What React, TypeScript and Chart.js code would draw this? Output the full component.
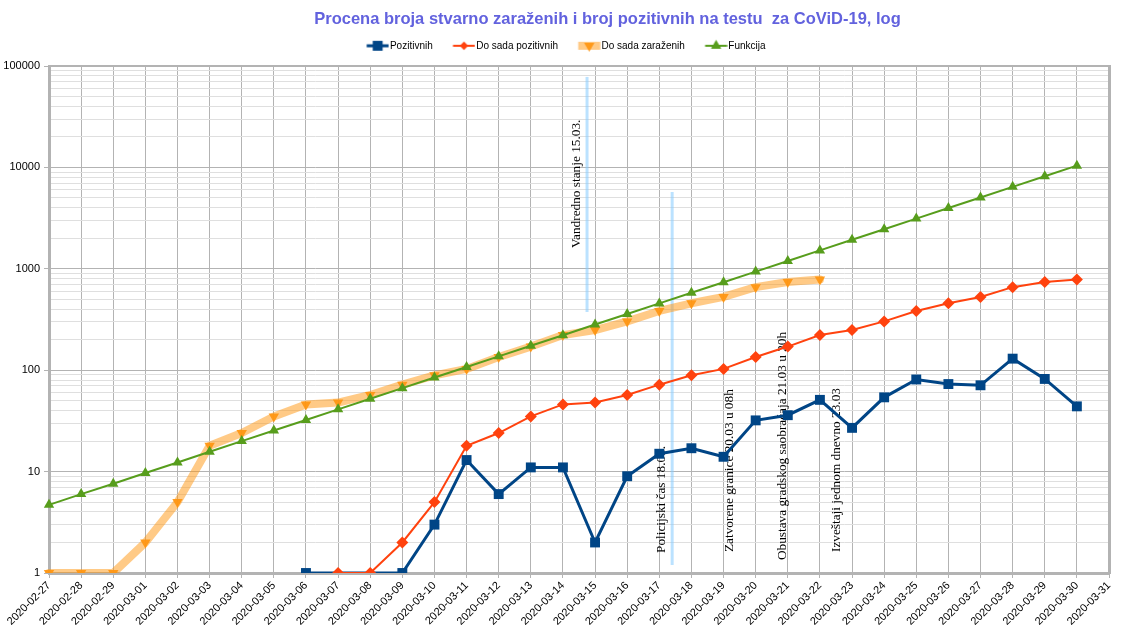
import React, { useEffect, useRef } from 'react';
import { Chart, registerables } from 'chart.js';

Chart.register(...registerables);

const categories = [
  '2020-02-27', '2020-02-28', '2020-02-29', '2020-03-01', '2020-03-02', '2020-03-03',
  '2020-03-04', '2020-03-05', '2020-03-06', '2020-03-07', '2020-03-08', '2020-03-09',
  '2020-03-10', '2020-03-11', '2020-03-12', '2020-03-13', '2020-03-14', '2020-03-15',
  '2020-03-16', '2020-03-17', '2020-03-18', '2020-03-19', '2020-03-20', '2020-03-21',
  '2020-03-22', '2020-03-23', '2020-03-24', '2020-03-25', '2020-03-26', '2020-03-27',
  '2020-03-28', '2020-03-29', '2020-03-30', '2020-03-31',
];

const pozitivnih = [
  null, null, null, null, null, null, null, null, 1, null, null, 1,
  3, 13, 6, 11, 11, 2, 9, 15, 17, 14, 32, 36,
  51, 27, 54, 81, 73, 71, 130, 82, 44, null,
];

const doSadaPozitivnih = [
  null, null, null, null, null, null, null, null, null, 1, 1, 2,
  5, 18, 24, 35, 46, 48, 57, 72, 89, 103, 135, 171,
  222, 249, 303, 384, 457, 528, 659, 741, 785, null,
];

const doSadaZarazenih = [
  1, 1, 1, 2, 5, 18, 24, 35, 46, 48, 57, 72,
  89, 103, 135, 171, 222, 249, 303, 384, 457, 528, 659, 741,
  785, null, null, null, null, null, null, null, null, null,
];

const funkcija = [
  4.7, 6.0, 7.6, 9.7, 12.3, 15.7, 20.0, 25.4, 32.3, 41.1, 52.3, 66.5,
  84.6, 107.6, 136.9, 174, 221, 282, 358, 456, 580, 738, 938, 1194,
  1519, 1932, 2457, 3125, 3975, 5056, 6431, 8180, 10405, null,
];

const seriesLabels = ['Pozitivnih', 'Do sada pozitivnih', 'Do sada zaraženih', 'Funkcija'];

const yMajorTicks = [1, 10, 100, 1000, 10000, 100000];
const yMinorMantissas = [2, 3, 4, 5, 6, 7, 8, 9];

const titleText = 'Procena broja stvarno zaraženih i broj pozitivnih na testu  za CoViD-19, log';

// annotation positions in data space (category index, y value)
const annotationLines = [
  { x: 16.75, yFrom: 375, yTo: 78000 },
  { x: 19.4, yFrom: 1.2, yTo: 5720 },
];
const annotationTexts = [
  { text: 'Vandredno stanje 15.03.', x: 16.53, y: 1600 },
  { text: 'Policijski čas 18.03.', x: 19.18, y: 1.575 },
  { text: 'Zatvorene granice 20.03 u 08h', x: 21.3, y: 1.61 },
  { text: 'Obustava gradskog saobraćaja 21.03 u 20h', x: 22.95, y: 1.34 },
  { text: 'Izveštaji jednom dnevno 23.03', x: 24.63, y: 1.61 },
];

const BLUE = '#004586';
const RED = '#ff420e';
const ORANGE_LINE = 'rgba(255,149,14,0.5)';
const ORANGE_MARK = 'rgba(255,149,14,0.9)';
const GREEN = '#579d1c';
const GRID = '#b3b3b3';
const GRID_MINOR = '#dfdfdf';
const SANS = '"Liberation Sans", Arial, sans-serif';
const SERIF = '"Liberation Serif", "Times New Roman", serif';

function drawMarker(ctx: CanvasRenderingContext2D, style: string, cx: number, cy: number, r: number) {
  ctx.beginPath();
  if (style === 'rect') {
    const s = r * Math.SQRT1_2;
    ctx.rect(cx - s, cy - s, 2 * s, 2 * s);
  } else if (style === 'rectRot') {
    const s = r * Math.SQRT1_2;
    ctx.moveTo(cx, cy - s);
    ctx.lineTo(cx + s, cy);
    ctx.lineTo(cx, cy + s);
    ctx.lineTo(cx - s, cy);
    ctx.closePath();
  } else if (style === 'triangle' || style === 'triangleDown') {
    const dir = style === 'triangle' ? 1 : -1;
    const h = r * 0.5;
    const w = r * Math.sin(Math.PI / 3);
    ctx.moveTo(cx, cy - dir * r);
    ctx.lineTo(cx + w, cy + dir * h);
    ctx.lineTo(cx - w, cy + dir * h);
    ctx.closePath();
  }
  ctx.fill();
}

function makeIcon(lineColor: string, lineWidth: number, style: string, markColor: string, r: number) {
  const c = document.createElement('canvas');
  c.width = 36;
  c.height = 16;
  const ctx = c.getContext('2d') as CanvasRenderingContext2D;
  ctx.strokeStyle = lineColor;
  ctx.lineWidth = lineWidth;
  ctx.beginPath();
  ctx.moveTo(13.5, 8);
  ctx.lineTo(35.5, 8);
  ctx.stroke();
  ctx.fillStyle = markColor;
  drawMarker(ctx, style, 24.5, 8, r);
  return c;
}

const annotationPlugin = {
  id: 'annotationsCustom',
  afterLayout(chart: any) {
    // the original title sits to the right of the canvas centre
    const tb = chart.titleBlock;
    if (tb) {
      tb.left += 46;
      tb.right += 46;
    }
  },
  beforeDatasetsDraw(chart: any) {
    const { ctx, scales } = chart;
    const xs = scales.x;
    const ys = scales.y;
    ctx.save();
    ctx.strokeStyle = 'rgba(131,202,255,0.55)';
    ctx.lineWidth = 3;
    annotationLines.forEach((l) => {
      const px = xs.getPixelForValue(l.x);
      ctx.beginPath();
      ctx.moveTo(px, ys.getPixelForValue(l.yFrom));
      ctx.lineTo(px, ys.getPixelForValue(l.yTo));
      ctx.stroke();
    });
    ctx.fillStyle = '#000';
    ctx.font = '13.3px ' + SERIF;
    ctx.textAlign = 'left';
    ctx.textBaseline = 'alphabetic';
    annotationTexts.forEach((t) => {
      const px = xs.getPixelForValue(t.x);
      const py = ys.getPixelForValue(t.y);
      ctx.save();
      ctx.translate(px, py);
      ctx.rotate(-Math.PI / 2);
      ctx.fillText(t.text, 0, 0);
      ctx.restore();
    });
    ctx.restore();
  },
};

export default function App() {
  const ref = useRef<HTMLCanvasElement | null>(null);

  useEffect(() => {
    document.body.style.margin = '0';
    const canvas = ref.current;
    if (!canvas) return;
    const icons = [
      makeIcon(BLUE, 3, 'rect', BLUE, 7),
      makeIcon(RED, 2, 'rectRot', RED, 6),
      makeIcon(ORANGE_LINE, 8, 'triangleDown', ORANGE_MARK, 6),
      makeIcon(GREEN, 2, 'triangle', GREEN, 6),
    ];
    Chart.defaults.font.family = SANS;
    const chart = new Chart(canvas, {
      type: 'line',
      data: {
        labels: categories,
        datasets: [
          {
            label: seriesLabels[0], data: pozitivnih, borderColor: BLUE, backgroundColor: BLUE,
            borderWidth: 3, pointStyle: 'rect', pointRadius: 7, pointBorderWidth: 0,
            pointBackgroundColor: BLUE, spanGaps: true, tension: 0, order: 3,
          },
          {
            label: seriesLabels[1], data: doSadaPozitivnih, borderColor: RED, backgroundColor: RED,
            borderWidth: 2, pointStyle: 'rectRot', pointRadius: 6, pointBorderWidth: 0,
            pointBackgroundColor: RED, tension: 0, order: 2,
          },
          {
            label: seriesLabels[2], data: doSadaZarazenih, borderColor: ORANGE_LINE, backgroundColor: ORANGE_MARK,
            borderWidth: 8, borderJoinStyle: 'round', borderCapStyle: 'round',
            pointStyle: 'triangle', pointRotation: 180, pointRadius: 6, pointBorderWidth: 0,
            pointBackgroundColor: ORANGE_MARK, pointBorderColor: ORANGE_MARK, tension: 0, order: 1,
          },
          {
            label: seriesLabels[3], data: funkcija, borderColor: GREEN, backgroundColor: GREEN,
            borderWidth: 2, pointStyle: 'triangle', pointRadius: 6, pointBorderWidth: 0,
            pointBackgroundColor: GREEN, tension: 0, order: 0,
          },
        ] as any,
      },
      options: {
        responsive: false,
        animation: false,
        devicePixelRatio: 1,
        events: [],
        layout: { padding: 0 },
        plugins: {
          tooltip: { enabled: false },
          title: {
            display: true,
            text: titleText,
            color: '#6262de',
            font: { family: SANS, size: 16.5, weight: 'bold' },
            padding: { top: 10, bottom: 0 },
          },
          legend: {
            display: true,
            position: 'top',
            labels: {
              usePointStyle: true,
              pointStyleWidth: 27.5,
              padding: 11,
              color: '#000',
              font: { family: SANS, size: 10 },
              generateLabels: (ch: any) => {
                const items = (Chart.defaults.plugins.legend.labels as any).generateLabels(ch);
                items.sort((a: any, b: any) => a.datasetIndex - b.datasetIndex);
                items.forEach((it: any) => {
                  it.pointStyle = icons[it.datasetIndex];
                  it.rotation = 0;
                });
                return items;
              },
            },
          },
        },
        scales: {
          x: {
            type: 'category',
            offset: false,
            grid: { color: GRID, lineWidth: 1, tickLength: 5, tickColor: GRID },
            border: { color: GRID, width: 3 },
            ticks: {
              autoSkip: false, maxRotation: 45, minRotation: 45, color: '#000',
              font: { family: SANS, size: 11 }, padding: 1,
            },
            afterFit: (s: any) => { s.height = 67; },
          },
          xTop: {
            type: 'category',
            position: 'top',
            grid: { display: false },
            ticks: { display: false },
            border: { color: GRID, width: 2 },
            afterFit: (s: any) => { s.height = 5.2; },
          },
          y: {
            type: 'logarithmic',
            min: 1,
            max: 100000,
            afterBuildTicks: (s: any) => {
              const t: any[] = [];
              yMajorTicks.forEach((v, k) => {
                t.push({ value: v, major: true });
                if (k < yMajorTicks.length - 1) {
                  yMinorMantissas.forEach((m) => t.push({ value: m * v, major: false }));
                }
              });
              s.ticks = t;
            },
            ticks: {
              autoSkip: false,
              color: '#000',
              font: { family: SANS, size: 11 },
              padding: 4,
              callback: (v: any) => (yMajorTicks.includes(Number(v)) ? String(v) : ''),
            },
            grid: {
              color: (c: any) => (c.tick && yMajorTicks.includes(c.tick.value) ? GRID : GRID_MINOR),
              tickColor: (c: any) => (c.tick && yMajorTicks.includes(c.tick.value) ? GRID : 'rgba(0,0,0,0)'),
              tickLength: 5,
              lineWidth: 1,
            },
            border: { color: GRID, width: 3 },
            afterFit: (s: any) => { s.width = 49; },
          },
          yRight: {
            type: 'linear',
            position: 'right',
            grid: { display: false },
            ticks: { display: false },
            border: { color: GRID, width: 3 },
            afterFit: (s: any) => { s.width = 14; },
          },
        },
      } as any,
      plugins: [annotationPlugin],
    });
    return () => chart.destroy();
  }, []);

  return (
    <div style={{ position: 'absolute', left: 0, top: 0, width: 1123, height: 640 }}>
      <canvas ref={ref} width={1123} height={640} style={{ display: 'block', width: 1123, height: 640 }} />
    </div>
  );
}
